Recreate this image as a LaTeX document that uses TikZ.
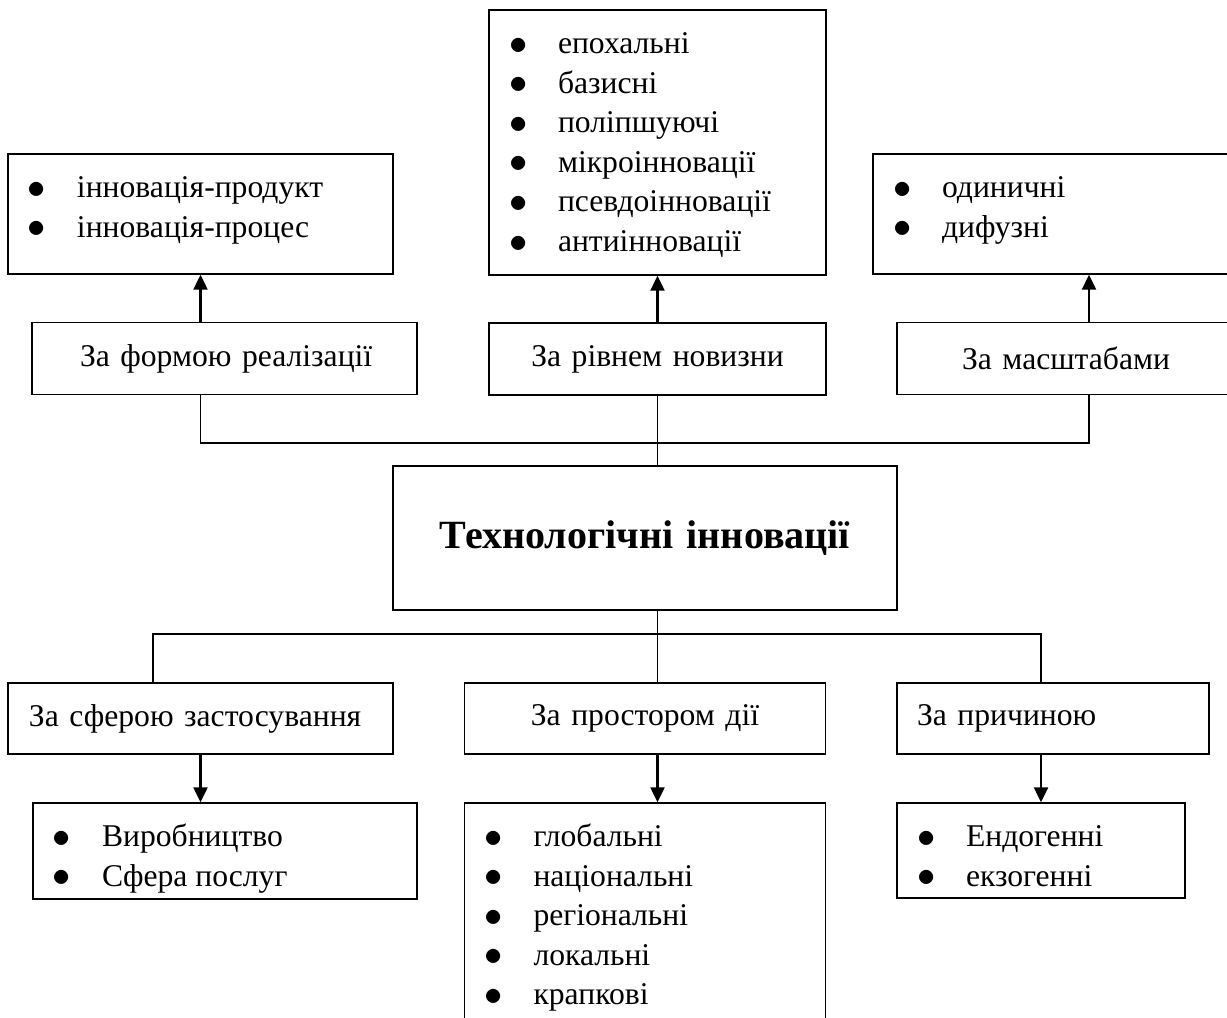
\documentclass[tikz,border=0pt]{standalone}
\usepackage{fontspec}
\setmainfont{Liberation Serif}
\usetikzlibrary{positioning, arrows.meta}

\newcommand{\itm}[1]{\hspace*{0.4cm}\makebox[0.98cm][l]{\raisebox{-0.02em}{\scalebox{1.2}{$\bullet$}}}#1\strut\par}
\newcommand{\blist}[3]{\parbox[c][#1][t]{#2}{\vspace*{0.32cm}#3}}

\begin{document}
\begin{tikzpicture}[auto, on grid, node distance=1cm and 1cm,
  font=\fontsize{18}{22.5}\selectfont,
  cat/.style={draw, line width=0.8pt, inner xsep=0pt, minimum height=1.44cm},
  lst/.style={draw, line width=0.8pt, inner sep=0pt},
  bus/.style={line width=0.7pt},
  arr/.style={line width=1.3pt, -{Triangle[width=0.28cm, length=0.3cm]}}]
	\useasboundingbox (0,0) rectangle (24.54,-20.34);

	\node[cat, text width=10.08cm, minimum height=2.88cm, align=center, font=\fontsize{22.8}{27}\selectfont\bfseries] (tech) at (12.9,-10.76) {Технологічні інновації};

	\node[cat, text width=7.7cm, align=left] (formBox) [above left=3.59cm and 8.41cm of tech] {\hspace*{0.96cm}За формою реалізації};
	\node[cat, text width=6.74cm, align=center] (novBox) [above right=3.58cm and 0.25cm of tech] {За рівнем новизни};
	\node[cat, text width=7.68cm, align=left] (scaleBox) [above right=3.59cm and 8.88cm of tech] {\hspace*{1.3cm}За масштабами};

	\node[lst] (formList) [above left=2.89cm and 0.48cm of formBox] {\blist{2.4cm}{7.7cm}{\itm{інновація-продукт}\itm{інновація-процес}}};
	\node[lst] (novList) [above=4.33cm of novBox] {\blist{5.3cm}{6.74cm}{\itm{епохальні}\itm{базисні}\itm{поліпшуючі}\itm{мікроінновації}\itm{псевдоінновації}\itm{антиінновації}}};
	\node[lst] (scaleList) [above=2.89cm of scaleBox] {\blist{2.4cm}{8.64cm}{\itm{одиничні}\itm{дифузні}}};

	\node[cat, text width=7.7cm, align=left, minimum height=1.42cm] (sphereBox) [below left=3.61cm and 8.89cm of tech] {\hspace*{0.42cm}За сферою застосування};
	\node[cat, text width=7.22cm, align=center, minimum height=1.42cm] (spaceBox) [below=3.61cm of tech] {За простором дії};
	\node[cat, text width=6.24cm, align=left, minimum height=1.42cm] (causeBox) [below right=3.61cm and 8.16cm of tech] {\hspace*{0.4cm}За причиною};

	\node[lst] (sphereList) [below right=2.65cm and 0.49cm of sphereBox] {\blist{1.92cm}{7.68cm}{\itm{Виробництво}\itm{Сфера послуг}}};
	\node[lst] (spaceList) [below=3.99cm of spaceBox] {\blist{4.6cm}{7.22cm}{\itm{глобальні}\itm{національні}\itm{регіональні}\itm{локальні}\itm{крапкові}}};
	\node[lst] (causeList) [below left=2.64cm and 0.24cm of causeBox] {\blist{1.9cm}{5.76cm}{\itm{Ендогенні}\itm{екзогенні}}};

	% buses
	\coordinate (busT) at (13.15,-8.86);
	\coordinate (busB) at (13.15,-12.68);
	\draw[bus] (formList |- formBox.south) |- (busT) -| (scaleBox.south);
	\draw[bus] (novBox.south) -- (tech.north -| novBox.south);
	\draw[bus] (tech.south -| novBox.south) -- (spaceBox.north -| novBox.south);
	\draw[bus] ([xshift=-0.95cm]sphereBox.north) |- (busB) -| (causeList |- causeBox.north);

	% arrows
	\draw[arr] (formBox.north -| formList.south) -- (formList.south);
	\draw[arr] (novBox.north) -- (novList.south);
	\draw[arr] (scaleBox.north) -- (scaleList.south);
	\draw[arr] (sphereBox.south) -- (sphereBox.south |- sphereList.north);
	\draw[arr] (spaceBox.south -| novBox.south) -- (spaceList.north -| novBox.south);
	\draw[arr] (causeBox.south -| causeList.north) -- (causeList.north);
\end{tikzpicture}
\end{document}
